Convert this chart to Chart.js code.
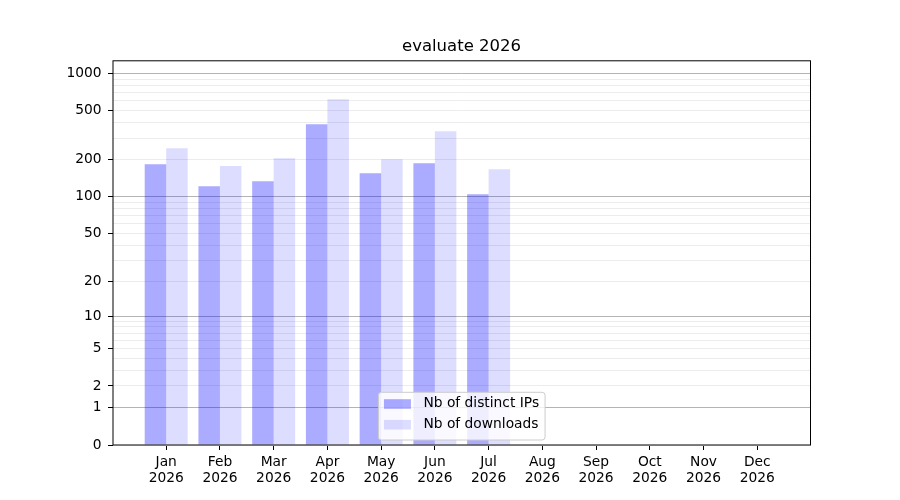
<!DOCTYPE html>
<html lang="en">
<head>
    <meta charset="UTF-8">
    <meta name="viewport" content="width=device-width, initial-scale=1.0">
    <title>evaluate 2026</title>
    <style>
      body { margin: 0; background: #fff; }
      canvas { display: block; }
    </style>
</head>
<body>
    <canvas id="myChart" width="900" height="500"></canvas>

    <script src="https://cdn.jsdelivr.net/npm/chart.js"></script>

    <script>
      // data
      const months = ['Jan', 'Feb', 'Mar', 'Apr', 'May', 'Jun', 'Jul', 'Aug', 'Sep', 'Oct', 'Nov', 'Dec'];
      const year = '2026';
      const distinctIps = [184, 122, 134, 389, 156, 188, 105, 0, 0, 0, 0, 0];
      const downloads = [249, 178, 206, 620, 202, 341, 168, 0, 0, 0, 0, 0];

      // y axis ticks (log(1 + x) scale)
      const yLabels = [0, 1, 2, 5, 10, 20, 50, 100, 200, 500, 1000];
      const yMajor = [1, 10, 100, 1000];
      const yMinor = [2, 3, 4, 5, 6, 7, 8, 9,
                      20, 30, 40, 50, 60, 70, 80, 90,
                      200, 300, 400, 500, 600, 700, 800, 900];
      const yGrid = [0].concat(yMajor, yMinor).sort((a, b) => a - b);

      const FONT = 'DejaVu Sans';
      const TICK_SIZE = 13.8;

      const f = v => Math.log10(1 + v);

      // linear scale with a log(1 + x) mapping
      class Log1pScale extends Chart.LinearScale {
        buildTicks() {
          return yGrid.map(v => ({ value: v }));
        }
        getPixelForValue(value) {
          const lo = f(this.min), hi = f(this.max);
          return this.getPixelForDecimal((f(value) - lo) / (hi - lo));
        }
        getValueForPixel(pixel) {
          const lo = f(this.min), hi = f(this.max);
          return Math.pow(10, lo + this.getDecimalForPixel(pixel) * (hi - lo)) - 1;
        }
      }
      Log1pScale.id = 'log1p';
      Log1pScale.defaults = Chart.LinearScale.defaults;
      Chart.register(Log1pScale);

      const frame = {
        id: 'frame',
        afterDraw(chart) {
          const { ctx, chartArea: a } = chart;
          ctx.save();
          ctx.strokeStyle = '#000';
          ctx.lineWidth = 1;
          ctx.strokeRect(a.left, a.top, a.right - a.left, a.bottom - a.top);
          ctx.restore();
        }
      };

      const legendBox = {
        id: 'legendBox',
        afterDraw(chart) {
          const { ctx, chartArea: a } = chart;
          const items = chart.data.datasets;
          ctx.save();
          ctx.font = TICK_SIZE + 'px "' + FONT + '"';
          const textW = Math.max(...items.map(d => ctx.measureText(d.label).width));
          const padL = 5.5, handle = 27, gap = 12.5, padR = 6;
          const w = padL + handle + gap + textW + padR;
          const h = 47.7;
          const x = (a.left + a.right) / 2 - w / 2;
          const y = a.bottom - 5 - h;
          const r = 3;

          ctx.beginPath();
          ctx.moveTo(x + r, y);
          ctx.arcTo(x + w, y, x + w, y + h, r);
          ctx.arcTo(x + w, y + h, x, y + h, r);
          ctx.arcTo(x, y + h, x, y, r);
          ctx.arcTo(x, y, x + w, y, r);
          ctx.closePath();
          ctx.fillStyle = 'rgba(255,255,255,0.8)';
          ctx.fill();
          ctx.strokeStyle = '#cccccc';
          ctx.lineWidth = 1;
          ctx.stroke();

          ctx.textBaseline = 'middle';
          ctx.textAlign = 'left';
          items.forEach((d, i) => {
            const cy = y + 11.7 + i * 20.7;
            ctx.fillStyle = d.backgroundColor;
            ctx.fillRect(x + padL, cy - 4.8, handle, 9.6);
            ctx.fillStyle = '#000';
            ctx.fillText(d.label, x + padL + handle + gap, cy - 0.5);
          });
          ctx.restore();
        }
      };

      const ctx = document.getElementById('myChart');

      let evalChart = new Chart(ctx, {
        type: 'bar',
        data: {
          datasets: [{
            label: 'Nb of distinct IPs',
            data: distinctIps.map((v, i) => ({ x: i, y: v })),
            backgroundColor: 'rgba(0,0,255,0.33)',
            borderWidth: 0,
            categoryPercentage: 0.8,
            barPercentage: 1.0
          }, {
            label: 'Nb of downloads',
            data: downloads.map((v, i) => ({ x: i, y: v })),
            backgroundColor: 'rgba(0,0,255,0.135)',
            borderWidth: 0,
            categoryPercentage: 0.8,
            barPercentage: 1.0
          }]
        },
        options: {
          responsive: false,
          animation: false,
          // left padding + empty right axis keep the title centred over the plot
          layout: { padding: { left: 23, right: 0, top: 0, bottom: 0 } },
          plugins: {
            legend: { display: false },
            tooltip: { enabled: false },
            title: {
              display: true,
              text: 'evaluate ' + year,
              color: '#000',
              font: { family: FONT, size: 16.5, weight: 'normal' },
              padding: { top: 37, bottom: 4 }
            }
          },
          scales: {
            x: {
              type: 'linear',
              min: -0.99,
              max: 11.99,
              offset: false,
              afterBuildTicks: scale => {
                scale.ticks = months.map((m, i) => ({ value: i }));
              },
              afterFit: scale => { scale.height = 55; },
              ticks: {
                autoSkip: false,
                maxRotation: 0,
                color: '#000',
                padding: 4,
                font: { family: FONT, size: TICK_SIZE },
                callback: value => [months[value], year]
              },
              grid: {
                offset: false,
                drawOnChartArea: false,
                drawTicks: true,
                tickLength: 5,
                tickColor: '#000'
              },
              border: { display: false }
            },
            y: {
              type: 'log1p',
              min: 0,
              max: 1268,
              afterFit: scale => { scale.width = 90; },
              ticks: {
                autoSkip: false,
                color: '#000',
                padding: 6.5,
                font: { family: FONT, size: TICK_SIZE },
                callback: value => yLabels.includes(value) ? String(value) : ''
              },
              grid: {
                lineWidth: 1,
                color: c => yMajor.includes(c.tick.value) ? '#b4b4b4' : '#ececec',
                tickColor: c => yLabels.includes(c.tick.value) ? '#000' : 'rgba(0,0,0,0)',
                tickLength: 5
              },
              border: { display: false }
            },
            spacer: {
              type: 'linear',
              position: 'right',
              display: true,
              afterFit: scale => { scale.width = 89.5; },
              ticks: { display: false },
              grid: { display: false, drawOnChartArea: false },
              border: { display: false }
            }
          }
        },
        plugins: [frame, legendBox]
      });
    </script>
</body>
</html>
